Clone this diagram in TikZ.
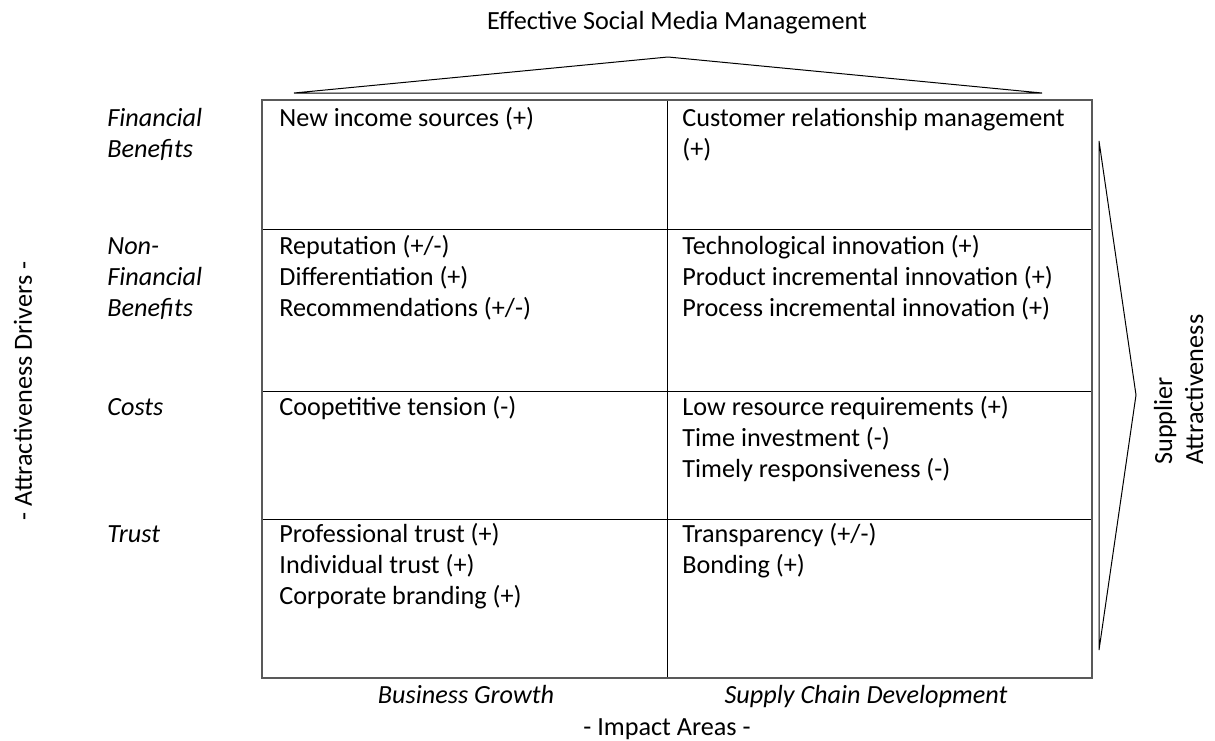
\documentclass[tikz,border=0pt]{standalone}
\usepackage{fontspec}
\setmainfont{Carlito}
\usetikzlibrary{positioning}

\newcommand{\celllines}[1]{\begin{tabular}[t]{@{}l@{}}#1\end{tabular}}

\begin{document}
\begin{tikzpicture}
  [x=0.5pt, y=-0.5pt,
   every node/.style={inner sep=0pt, font=\fontsize{13.1}{15.5}\selectfont},
   celltext/.style={anchor=base west},
   rowlabel/.style={anchor=base west, font=\fontsize{13.1}{15.5}\selectfont\itshape},
   collabel/.style={anchor=base, font=\fontsize{13.1}{15.5}\selectfont\itshape},
   frame/.style={draw=black!65, line width=0.75pt},
   gridline/.style={draw=black, line width=0.5pt}]
  \useasboundingbox (0,0) rectangle (1215,740);

  % heading and triangle
  \node (title) [anchor=base] at (677,29) {Effective Social Media Management};
  \coordinate (topL) at (294,93);
  \coordinate (topA) at (668,57);
  \coordinate (topR) at (1042,93);
  \draw[line width=0.5pt] (topL) -- (topA) -- (topR) -- cycle;

  % table
  \draw[gridline] (262,229) -- (1092,229);
  \draw[gridline] (262,391) -- (1092,391);
  \draw[gridline] (262,519) -- (1092,519);
  \draw[gridline] (667,100) -- (667,678);
  \draw[frame] (262,100) rectangle (1092,678);

  % row labels
  \node (fin) [rowlabel] at (107,126) {\celllines{Financial\\Benefits}};
  \node (nonfin) [rowlabel] at (107,254) {\celllines{Non-\\Financial\\Benefits}};
  \node (costs) [rowlabel] at (107,415) {Costs};
  \node (trust) [rowlabel] at (107,542) {Trust};

  % cells
  \node (growthfin) [celltext] at (279,126) {New income sources (+)};
  \node (chainfin) [celltext] at (682,126) {\celllines{Customer relationship management\\(+)}};
  \node (growthnon) [celltext] at (279,254) {\celllines{Reputation (+/-)\\Differentiation (+)\\Recommendations (+/-)}};
  \node (chainnon) [celltext] at (682,254) {\celllines{Technological innovation (+)\\Product incremental innovation (+)\\Process incremental innovation (+)}};
  \node (growthcost) [celltext] at (279,415) {Coopetitive tension (-)};
  \node (chaincost) [celltext] at (682,415) {\celllines{Low resource requirements (+)\\Time investment (-)\\Timely responsiveness (-)}};
  \node (growthtrust) [celltext] at (279,542) {\celllines{Professional trust (+)\\Individual trust (+)\\Corporate branding (+)}};
  \node (chaintrust) [celltext] at (682,542) {\celllines{Transparency (+/-)\\Bonding (+)}};

  % column labels
  \node (growth) [collabel] at (466,703) {Business Growth};
  \node (chain) [collabel] at (866,703) {Supply Chain Development};
  \node (impact) [anchor=base] at (667,735) {- Impact Areas -};

  % side labels
  \node (drivers) [anchor=base, rotate=90] at (32,391) {- Attractiveness Drivers -};
  \coordinate (sideT) at (1099,141);
  \coordinate (sideA) at (1136,395);
  \coordinate (sideB) at (1099,650);
  \draw[line width=0.5pt] (sideT) -- (sideA) -- (sideB) -- cycle;
  \node (supplier) [anchor=base west, rotate=90] at (1172,465) {\celllines{Supplier\\Attractiveness}};
\end{tikzpicture}
\end{document}
